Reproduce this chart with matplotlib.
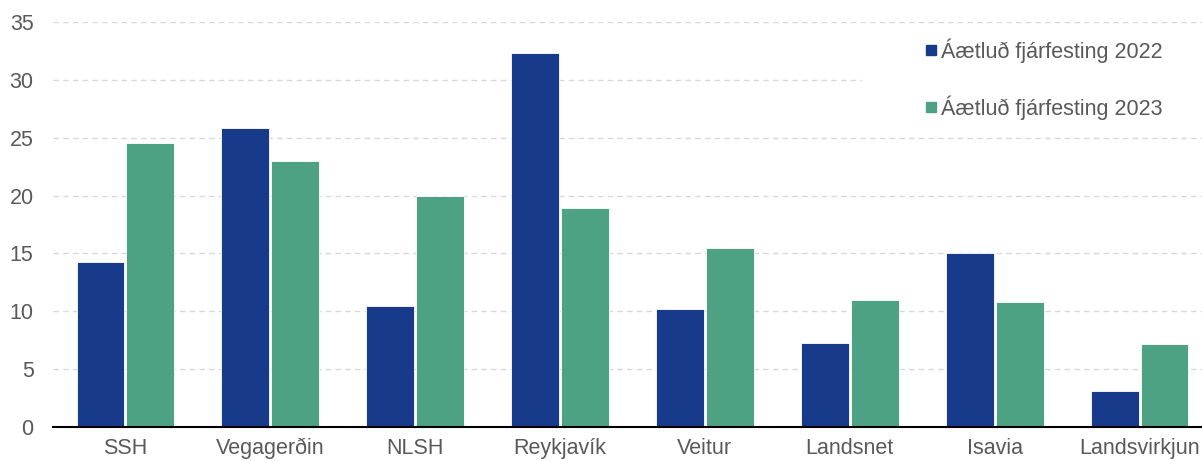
import matplotlib
matplotlib.use("Agg")
import matplotlib.pyplot as plt
from matplotlib.lines import Line2D
from matplotlib.patches import Rectangle
import numpy as np

categories = ["SSH", "Vegagerðin", "NLSH", "Reykjavík", "Veitur", "Landsnet", "Isavia", "Landsvirkjun"]
inv_2022 = [14.3, 25.8, 10.5, 32.3, 10.2, 7.3, 15.0, 3.1]
inv_2023 = [24.5, 23.0, 20.0, 18.9, 15.5, 11.0, 10.8, 7.2]
labels = ["Áætluð fjárfesting 2022", "Áætluð fjárfesting 2023"]
yticks = [0, 5, 10, 15, 20, 25, 30, 35]

c22 = "#173A8A"
c23 = "#4DA283"
txt = "#595959"
fs = 15.5

plt.rcParams['font.family'] = ['Liberation Sans', 'DejaVu Sans']

fig = plt.figure(figsize=(12.02, 4.61), dpi=100)
ax = fig.add_axes([53/1202, 1 - 427/461, (1202-53)/1202, (427-22)/461])

x = np.arange(len(categories))
w = 0.33
ax.bar(x - 0.172, inv_2022, w, color=c22, edgecolor="white", linewidth=0.6, zorder=3)
ax.bar(x + 0.172, inv_2023, w, color=c23, edgecolor="white", linewidth=0.6, zorder=3)

ax.set_ylim(0, 35)
ax.set_xlim(-0.5, 7.5 - 10/145)
ax.set_yticks(yticks)
ax.set_xticks(x)
ax.set_xticklabels(categories)
ax.tick_params(axis='both', length=0, labelsize=fs, colors=txt)
ax.tick_params(axis='x', pad=8)
ax.tick_params(axis='y', pad=14)
ax.grid(axis='y', color="#D9D9D9", linestyle=(0, (4, 3)), linewidth=1.0, zorder=0)
for s in ["top", "right", "left"]:
    ax.spines[s].set_visible(False)
ax.spines["bottom"].set_color("black")
ax.spines["bottom"].set_linewidth(1.5)
ax.spines["bottom"].set_zorder(4)

# white legend background area
fig.patches.append(Rectangle((862/1202, 1 - 130/461), (1202-862)/1202, (130-30)/461,
                             transform=fig.transFigure, facecolor="white", edgecolor="none", zorder=5))

handles = [Line2D([], [], marker='s', linestyle='none', markersize=7.5, color=c22),
           Line2D([], [], marker='s', linestyle='none', markersize=7.5, color=c23)]
leg = fig.legend(handles, labels, loc='center left', bbox_to_anchor=(923/1202, 1 - 79/461),
                 frameon=False, fontsize=fs, labelspacing=1.5, handlelength=0.7,
                 handletextpad=0.15, borderpad=0, borderaxespad=0)
for t in leg.get_texts():
    t.set_color(txt)
leg.set_zorder(6)

fig.savefig("out.png", dpi=100)
